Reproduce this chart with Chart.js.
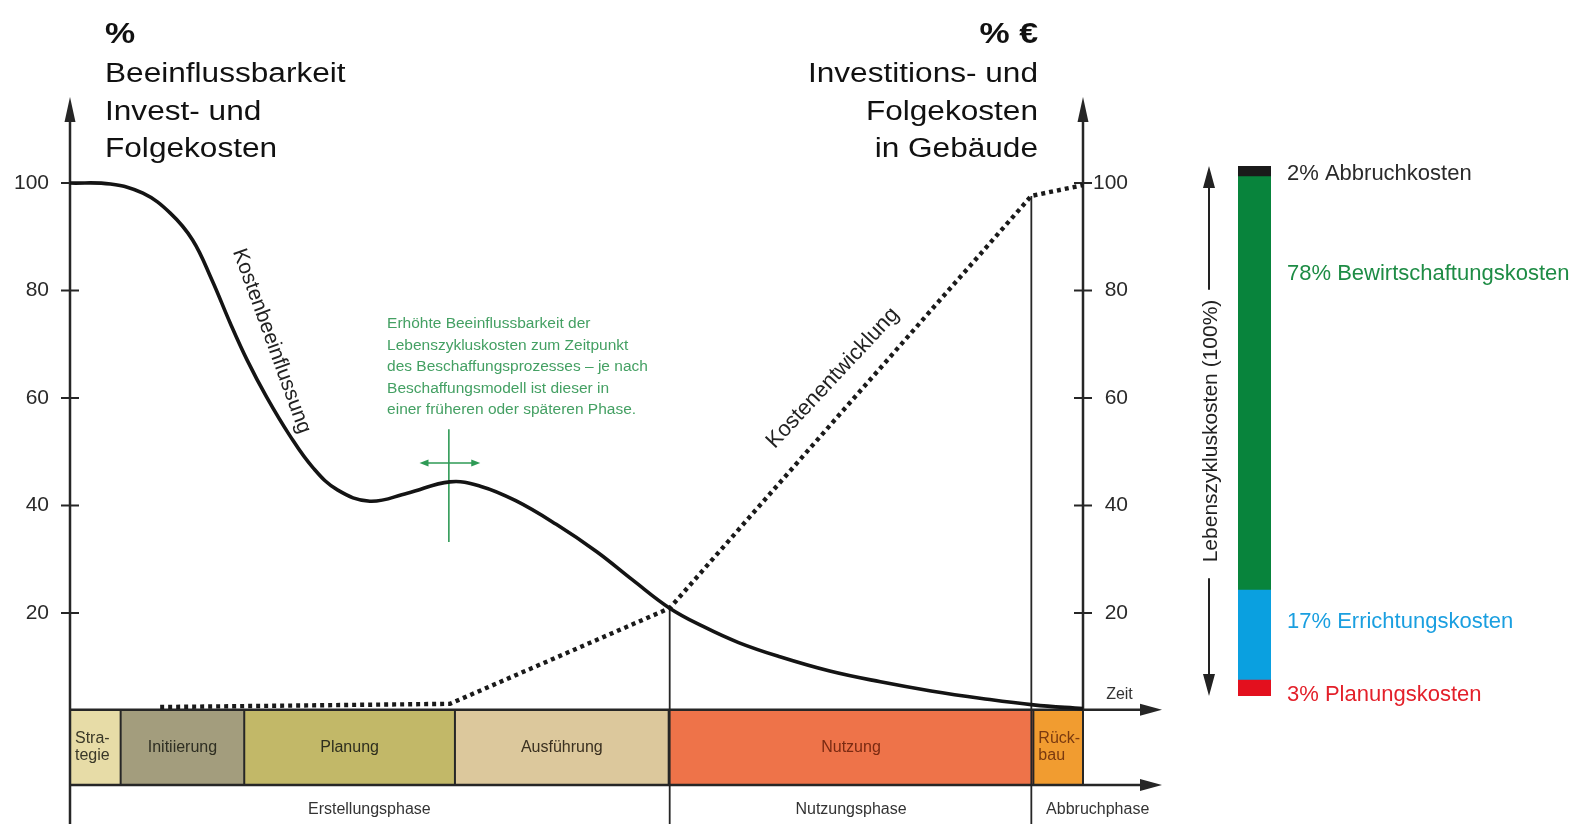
<!DOCTYPE html>
<html><head><meta charset="utf-8">
<script src="https://cdn.jsdelivr.net/npm/chart.js@4.4.1/dist/chart.umd.min.js"></script>
<style>
html,body{margin:0;padding:0;background:#fff;width:1574px;height:824px;overflow:hidden;}
#main{position:absolute;left:0;top:0;}
#side{position:absolute;left:1180px;top:0;}
</style></head><body>
<canvas id="main" width="1180" height="824"></canvas>
<canvas id="side" width="394" height="824"></canvas>
<script>
// ---------- data ----------
const yTickValues = [20, 40, 60, 80, 100];

const influenceTime  = [0, 4, 7.2, 9.9, 12.1, 14.0, 15.8, 17.5, 19.4, 21.7, 24.0, 26.4, 29.6, 33.3, 37.5, 40.5, 44.0, 48.0, 52.0, 55.5, 59.2, 62.5, 66.0, 70.0, 75.0, 80.0, 85.0, 90.0, 95.1, 100];
const influenceValue = [100, 99.8, 98.1, 94.4, 89.4, 82.0, 74.0, 67.0, 60.2, 53.0, 47.0, 42.9, 40.8, 42.3, 44.4, 43.6, 40.9, 36.5, 31.4, 26.2, 20.9, 17.5, 14.5, 11.9, 9.2, 7.2, 5.5, 4.1, 2.9, 2.2];

const costTime  = [8.9, 37.5, 59.2, 94.9, 100];
const costValue = [2.5, 3.1, 20.9, 97.6, 99.6];

const phaseNames = ['Stra-\ntegie', 'Initiierung', 'Planung', 'Ausführung', 'Nutzung', 'Rück-\nbau'];
const phaseStart = [0, 5, 17.2, 38.0, 59.1, 95.1];
const phaseEnd   = [5, 17.2, 38.0, 59.1, 95.1, 100];

const stageNames = ['Erstellungsphase', 'Nutzungsphase', 'Abbruchphase'];
const stageStart = [0, 59.1, 95.1];
const stageEnd   = [59.1, 95.1, 107.8];

const costNames  = ['Planungskosten', 'Errichtungskosten', 'Bewirtschaftungskosten', 'Abbruchkosten'];
const costShares = [3, 17, 78, 2];

const annotationLines = [
  'Erhöhte Beeinflussbarkeit der',
  'Lebenszykluskosten zum Zeitpunkt',
  'des Beschaffungsprozesses – je nach',
  'Beschaffungsmodell ist dieser in',
  'einer früheren oder späteren Phase.'
];

// ---------- helpers ----------
const SANS = "'Liberation Sans', Arial, Helvetica, sans-serif";
function txt(ctx, s, x, y, o) {
  ctx.save();
  ctx.translate(x, y);
  if (o.rot) ctx.rotate(o.rot);
  if (o.sx && o.sx !== 1) ctx.scale(o.sx, 1);
  ctx.font = o.font;
  ctx.fillStyle = o.color || '#222';
  ctx.textAlign = o.align || 'left';
  ctx.textBaseline = o.baseline || 'middle';
  ctx.fillText(s, 0, 0);
  ctx.restore();
}
function seg(ctx, x0, y0, x1, y1, w, c) {
  ctx.beginPath(); ctx.moveTo(x0, y0); ctx.lineTo(x1, y1);
  ctx.lineWidth = w; ctx.strokeStyle = c; ctx.lineCap = 'butt'; ctx.stroke();
}
function arrowHead(ctx, tx, ty, dx, dy, len, half, c) {
  const bx = tx - dx * len, by = ty - dy * len, px = -dy, py = dx;
  ctx.beginPath(); ctx.moveTo(tx, ty);
  ctx.lineTo(bx + px * half, by + py * half);
  ctx.lineTo(bx - px * half, by - py * half);
  ctx.closePath(); ctx.fillStyle = c; ctx.fill();
}

// ---------- main diagram plugin ----------
const diagramPlugin = {
  id: 'diagram',
  beforeDatasetsDraw(chart, args, o) {
    const ctx = chart.ctx, xs = chart.scales.x, ys = chart.scales.y;
    const X = v => xs.getPixelForValue(v), Y = v => ys.getPixelForValue(v);
    const yt = Y(o.bandTop), yb = Y(o.bandBottom), bottom = chart.height;
    ctx.save();
    // phase boxes
    phaseNames.forEach((n, i) => {
      const x0 = X(phaseStart[i]), x1 = X(phaseEnd[i]);
      ctx.fillStyle = o.phaseColors[i];
      ctx.fillRect(x0, yt, x1 - x0, yb - yt);
    });
    phaseStart.slice(1).forEach(s => seg(ctx, X(s), yt, X(s), yb, 2, o.lineColor));
    seg(ctx, X(100), yt, X(100), yb, 2, o.lineColor);
    // phase labels
    phaseNames.forEach((n, i) => {
      const x0 = X(phaseStart[i]), x1 = X(phaseEnd[i]);
      const lines = n.split('\n');
      const yc = (yt + yb) / 2;
      lines.forEach((l, k) => {
        const yy = yc + (k - (lines.length - 1) / 2) * o.phaseLineHeight;
        if (lines.length > 1) txt(ctx, l, x0 + 5, yy, {font: o.phaseFont, color: o.phaseTextColors[i], align: 'left'});
        else txt(ctx, l, (x0 + x1) / 2, yy, {font: o.phaseFont, color: o.phaseTextColors[i], align: 'center'});
      });
    });
    // band lines with arrows
    const xEnd = X(o.arrowEnd);
    seg(ctx, X(0), yt, xEnd - 10, yt, 2.5, o.lineColor);
    seg(ctx, X(0), yb, xEnd - 10, yb, 2.5, o.lineColor);
    arrowHead(ctx, xEnd, yt, 1, 0, 22, 6, o.lineColor);
    arrowHead(ctx, xEnd, yb, 1, 0, 22, 6, o.lineColor);
    // axes
    const yTop = Y(o.axisTop);
    seg(ctx, X(0), yTop + 10, X(0), bottom, 2.5, o.lineColor);
    seg(ctx, X(100), yTop + 10, X(100), yt, 2.5, o.lineColor);
    arrowHead(ctx, X(0), yTop, 0, -1, 25, 5.5, o.lineColor);
    arrowHead(ctx, X(100), yTop, 0, -1, 25, 5.5, o.lineColor);
    yTickValues.forEach(v => {
      seg(ctx, X(0) - 9, Y(v), X(0) + 9, Y(v), 2, o.lineColor);
      seg(ctx, X(100) - 9, Y(v), X(100) + 9, Y(v), 2, o.lineColor);
    });
    // phase boundary verticals
    seg(ctx, X(costTime[2]), Y(costValue[2]), X(costTime[2]), bottom, 1.8, o.lineColor);
    seg(ctx, X(costTime[3]), Y(costValue[3]), X(costTime[3]), bottom, 1.8, o.lineColor);
    // stage labels
    stageNames.forEach((n, i) => {
      txt(ctx, n, (X(stageStart[i]) + X(stageEnd[i])) / 2, Y(o.stageY), {font: o.phaseFont, color: '#333', align: 'center'});
    });
    // Zeit
    txt(ctx, 'Zeit', X(o.zeit[0]), Y(o.zeit[1]), {font: o.phaseFont, color: '#333', align: 'center'});
    // headers
    const hx = X(0) + 35, hr = X(100) - 45;
    txt(ctx, '%', hx, 43, {font: 'bold 29px ' + SANS, color: '#111', baseline: 'alphabetic', sx: 1.17});
    ['Beeinflussbarkeit', 'Invest- und', 'Folgekosten'].forEach((s, k) =>
      txt(ctx, s, hx, 82 + k * 37.5, {font: '27px ' + SANS, color: '#111', baseline: 'alphabetic', sx: 1.17}));
    txt(ctx, '% €', hr, 43, {font: 'bold 29px ' + SANS, color: '#111', baseline: 'alphabetic', align: 'right', sx: 1.17});
    ['Investitions- und', 'Folgekosten', 'in Gebäude'].forEach((s, k) =>
      txt(ctx, s, hr, 82 + k * 37.5, {font: '27px ' + SANS, color: '#111', baseline: 'alphabetic', align: 'right', sx: 1.17}));
    // annotation text
    annotationLines.forEach((l, k) =>
      txt(ctx, l, X(o.note[0]), Y(o.note[1]) + k * 21.5, {font: '15.5px ' + SANS, color: '#44a063'}));
    // crosshair
    const cx = X(o.cross[0]);
    seg(ctx, cx, Y(o.cross[1]), cx, Y(o.cross[2]), 1.6, '#2e9a55');
    const hy = Y(o.cross[3]), ha = X(o.cross[4]), hb = X(o.cross[5]);
    seg(ctx, ha + 6, hy, hb - 6, hy, 1.6, '#2e9a55');
    arrowHead(ctx, ha, hy, -1, 0, 9, 3.5, '#2e9a55');
    arrowHead(ctx, hb, hy, 1, 0, 9, 3.5, '#2e9a55');
    // rotated labels
    txt(ctx, 'Kostenbeeinflussung', X(o.lblInfluence[0]), Y(o.lblInfluence[1]),
        {font: '21px ' + SANS, color: '#222', align: 'center', rot: o.lblInfluence[2] * Math.PI / 180});
    txt(ctx, 'Kostenentwicklung', X(o.lblCost[0]), Y(o.lblCost[1]),
        {font: '22px ' + SANS, color: '#222', align: 'center', rot: o.lblCost[2] * Math.PI / 180});
    ctx.restore();
  }
};

const Y_MIN = -19.26, Y_MAX = 134.05;
const yAxisBase = (pos, width, align, pad) => ({
  type: 'linear', position: pos, min: Y_MIN, max: Y_MAX,
  grid: {display: false, drawTicks: false}, border: {display: false},
  ticks: {padding: pad, crossAlign: align, color: '#2a2a2a', font: {family: SANS, size: 21}},
  afterBuildTicks: s => { s.ticks = yTickValues.map(v => ({value: v})); },
  afterFit: s => { s.width = width; s.paddingTop = 0; s.paddingBottom = 0; }
});

new Chart(document.getElementById('main'), {
  type: 'line',
  data: {
    datasets: [
      {label: 'Kostenbeeinflussung', data: influenceTime.map((t, i) => ({x: t, y: influenceValue[i]})),
       borderColor: '#141414', borderWidth: 3.6, pointRadius: 0, tension: 0.4, fill: false, clip: false},
      {label: 'Kostenentwicklung', data: costTime.map((t, i) => ({x: t, y: costValue[i]})),
       borderColor: '#1a1a1a', borderWidth: 4.4, borderDash: [4, 4], borderCapStyle: 'butt', pointRadius: 0, tension: 0, fill: false, clip: false}
    ]
  },
  options: {
    responsive: false, animation: false, events: [],
    layout: {padding: {left: 0, right: 52, top: 0, bottom: 0}},
    scales: {
      x: {type: 'linear', min: 0, max: 100, display: false},
      y: yAxisBase('left', 70, 'near', 21),
      y2: yAxisBase('right', 45, 'far', 12)
    },
    plugins: {
      legend: {display: false}, tooltip: {enabled: false},
      diagram: {
        bandTop: 2, bandBottom: -12, axisTop: 116, arrowEnd: 107.8, stageY: -16.6,
        lineColor: '#262626', phaseFont: '16px ' + SANS, phaseLineHeight: 17,
        phaseColors: ['#e7dca7', '#a39d7d', '#c2b868', '#dcc89c', '#ee7349', '#f19c30'],
        phaseTextColors: ['#3a3828', '#2e2e22', '#2e2e1e', '#3a3020', '#7a2a12', '#7a3a10'],
        zeit: [103.6, 4.9],
        note: [31.3, 73.8],
        cross: [37.4, 54.2, 33.2, 47.9, 34.5, 40.5],
        lblInfluence: [19.9, 70.6, 70],
        lblCost: [75.3, 63.7, -47]
      }
    }
  },
  plugins: [diagramPlugin]
});

// ---------- side bar ----------
const costPlugin = {
  id: 'costLabels',
  afterDatasetsDraw(chart, args, o) {
    const ctx = chart.ctx;
    chart.data.datasets.forEach((ds, i) => {
      const el = chart.getDatasetMeta(i).data[0];
      const right = el.x + el.width / 2, top = Math.min(el.y, el.base);
      txt(ctx, costShares[i] + '% ' + costNames[i], right + o.gap, top + o.offsets[i],
          {font: '22px ' + SANS, color: o.textColors[i]});
    });
    const ys = chart.scales.y, yTop = ys.getPixelForValue(100), yBot = ys.getPixelForValue(0);
    const ax = o.arrowX, label = 'Lebenszykluskosten (100%)', font = '21px ' + SANS;
    ctx.save(); ctx.font = font; const w = ctx.measureText(label).width; ctx.restore();
    const yc = (yTop + yBot) / 2;
    txt(ctx, label, ax + 2, yc, {font, color: '#222', align: 'center', rot: -Math.PI / 2});
    seg(ctx, ax, yTop + 10, ax, yc - w / 2 - 10, 2, '#222');
    seg(ctx, ax, yc + w / 2 + 16, ax, yBot - 10, 2, '#222');
    arrowHead(ctx, ax, yTop, 0, -1, 22, 6, '#222');
    arrowHead(ctx, ax, yBot, 0, 1, 22, 6, '#222');
  }
};

new Chart(document.getElementById('side'), {
  type: 'bar',
  data: {
    labels: ['Lebenszykluskosten'],
    datasets: costNames.map((n, i) => ({
      label: n, data: [costShares[i]],
      backgroundColor: ['#e3101e', '#0aa0e0', '#08843c', '#1a1a1a'][i],
      borderWidth: 0, barPercentage: 1, categoryPercentage: 1
    }))
  },
  options: {
    responsive: false, animation: false, events: [],
    layout: {padding: {left: 58, right: 303, top: 166, bottom: 128}},
    scales: {
      x: {stacked: true, display: false},
      y: {stacked: true, display: false, min: 0, max: 100}
    },
    plugins: {
      legend: {display: false}, tooltip: {enabled: false},
      costLabels: {gap: 16, offsets: [15, 32, 97, 8], arrowX: 29,
        textColors: ['#e3202a', '#1a9fe0', '#1e8c45', '#2a2a2a']}
    }
  },
  plugins: [costPlugin]
});
</script>
</body></html>
